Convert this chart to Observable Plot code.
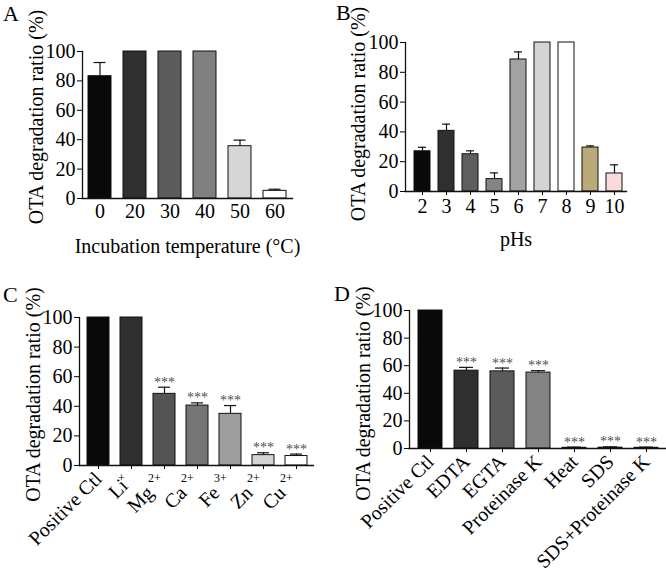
<!DOCTYPE html>
<html><head><meta charset="utf-8">
<script src="https://cdn.jsdelivr.net/npm/d3@7"></script>
<script src="https://cdn.jsdelivr.net/npm/@observablehq/plot@0.6"></script>
<style>
body{margin:0;background:#fff;}
#fig{position:relative;width:666px;height:572px;font-family:"Liberation Serif","Times New Roman",serif;color:#000;}
.panel{position:absolute;}
.letter{position:absolute;font-size:22px;line-height:1;font-family:"Liberation Serif",serif;}
</style></head><body><div id="fig"></div>
<script>
// ---- data ----
const yLabel = "OTA degradation ratio (%)";
const yTicks = [0, 20, 40, 60, 80, 100];

const tempCats = ["0", "20", "30", "40", "50", "60"];
const tempMean = [83.2, 100, 100, 100, 35.6, 5.2];
const tempUpper = [92.5, 100, 100, 100, 39.7, 6.3];

const phCats = ["2", "3", "4", "5", "6", "7", "8", "9", "10"];
const phMean = [27.0, 40.7, 25.0, 8.3, 88.6, 100, 100, 29.5, 12.1];
const phUpper = [29.7, 45.2, 27.3, 12.5, 93.7, 100, 100, 30.6, 17.9];

const ionCats = ["Positive Ctl", "Li⁺", "Mg²⁺", "Ca²⁺", "Fe³⁺", "Zn²⁺", "Cu²⁺"];
const ionMean = [100, 100, 48.4, 40.5, 34.9, 7.0, 6.4];
const ionUpper = [100, 100, 52.9, 42.3, 40.5, 8.6, 7.7];
const ionSig = ["", "", "***", "***", "***", "***", "***"];

const treatCats = ["Positive Ctl", "EDTA", "EGTA", "Proteinase K", "Heat", "SDS", "SDS+Proteinase K"];
const treatMean = [100, 56.4, 55.9, 55.0, 0.5, 0.6, 0.5];
const treatUpper = [100, 58.8, 58.3, 56.4, 1.0, 1.2, 1.0];
const treatSig = ["", "***", "***", "***", "***", "***", "***"];

// ---- styles ----
const tempColors = ["#0b0808", "#2f2f2f", "#5b5b5b", "#808080", "#d6d6d6", "#ffffff"];
const phColors = ["#0b0808", "#303030", "#5e5e5e", "#858585", "#a3a3a3", "#d4d4d4", "#ffffff", "#bba97a", "#fadadd"];
const ionColors = ["#0b0808", "#2f2f2f", "#555555", "#757575", "#9e9e9e", "#d4d4d4", "#ffffff"];
const treatColors = ["#0b0808", "#2f2f2f", "#5b5b5b", "#838383", "#b0b0b0", "#d4d4d4", "#ffffff"];

const supMap = {"⁺": "+", "²": "2", "³": "3"};
const supOf = c => [...c].filter(ch => supMap[ch]).map(ch => supMap[ch]).join("");
const baseOf = c => [...c].filter(ch => !supMap[ch]).join("");

function panel(o) {
  const data = o.cats.map((c, i) => ({cat: c, mean: o.mean[i], upper: o.upper[i], sig: o.sig ? o.sig[i] : "", sup: supOf(c)}));
  const err = data.filter(d => d.upper > d.mean);
  const marks = [
    Plot.barY(data, {x: "cat", y: "mean", fill: "cat", stroke: "#111", strokeWidth: 1}),
    Plot.ruleX(err, {x: "cat", y1: "mean", y2: "upper", stroke: "#111", strokeWidth: 1.2}),
    Plot.tickY(err, {x: "cat", y: "upper", stroke: "#111", strokeWidth: 1.2, insetLeft: o.cap, insetRight: o.cap}),
    Plot.frame({anchor: "left", stroke: "#111", strokeWidth: 1.3}),
    Plot.frame({anchor: "bottom", stroke: "#111", strokeWidth: 1.3}),
    Plot.axisY({ticks: yTicks, tickSize: 5, tickPadding: 2, fontSize: 20, label: null}),
    Plot.axisX({tickSize: o.xTick, tickPadding: o.tp, fontSize: 20, tickRotate: o.rotate || 0,
      tickFormat: c => { const s = supOf(c); return s ? baseOf(c) + "\u2002".repeat(s.length) : c; },
      label: o.xLabel || null, labelAnchor: "center", labelOffset: 54, labelArrow: "none"}),
    Plot.text([yLabel], {frameAnchor: "left", textAnchor: "middle", lineAnchor: "middle", rotate: -90, dx: o.ldx, dy: o.ldy, fontSize: 20})
  ];
  const sups = data.filter(d => d.sup);
  if (sups.length) marks.push(Plot.text(sups, {x: "cat", frameAnchor: "bottom", text: "sup", dx: -10, dy: 16, fontSize: 12}));
  if (o.sig) marks.push(Plot.text(data.filter(d => d.sig), {x: "cat", y: "upper", text: "sig", dy: -5, fontSize: 14, fill: "#505050"}));
  return Plot.plot({
    width: 333, height: 286,
    marginLeft: o.ml, marginTop: o.mt, marginBottom: o.mb, marginRight: o.mr,
    style: {fontFamily: "Liberation Serif, Times New Roman, serif", fontSize: "20px", color: "#000", background: "transparent", overflow: "visible"},
    x: {type: "band", domain: o.cats, paddingInner: o.pad, paddingOuter: o.pad / 2, insetLeft: o.il, insetRight: o.ir, label: null},
    y: {domain: [0, 100], label: null},
    color: {domain: o.cats, range: o.colors},
    marks
  });
}

const fig = document.getElementById("fig");
function place(node, left, top) {
  node.classList.add("panel");
  node.style.left = left + "px"; node.style.top = top + "px";
  fig.appendChild(node);
}
place(panel({cats: tempCats, mean: tempMean, upper: tempUpper, colors: tempColors, xLabel: "Incubation temperature (°C)",
  ml: 82, mt: 51, mb: 88, mr: 41, pad: 0.34, il: 0, ir: 0, cap: 5.5, xTick: 0, tp: 5, ldx: -46, ldy: -8}), 0, 0);
place(panel({cats: phCats, mean: phMean, upper: phUpper, colors: phColors, xLabel: "pHs",
  ml: 72, mt: 42, mb: 95, mr: 40, pad: 0.33, il: 4.5, ir: 0, cap: 4, xTick: 4, tp: 3, ldx: -47, ldy: -3}), 333, 0);
place(panel({cats: ionCats, mean: ionMean, upper: ionUpper, sig: ionSig, colors: ionColors, rotate: -45,
  ml: 79, mt: 31, mb: 107, mr: 20, pad: 0.33, il: 2.5, ir: 0.5, cap: 5, xTick: 4, tp: 6, ldx: -45.5, ldy: 3}), 0, 286);
place(panel({cats: treatCats, mean: treatMean, upper: treatUpper, sig: treatSig, colors: treatColors, rotate: -45,
  ml: 76, mt: 24, mb: 124, mr: 1, pad: 0.33, il: 3, ir: 1, cap: 5, xTick: 4, tp: 6, ldx: -46, ldy: 14}), 333, 286);

[["A", 3, 3], ["B", 336, 2], ["C", 3, 284], ["D", 334, 283]].forEach(([t, x, y]) => {
  const d = document.createElement("div");
  d.className = "letter"; d.textContent = t;
  d.style.left = x + "px"; d.style.top = y + "px";
  fig.appendChild(d);
});
</script></body></html>
